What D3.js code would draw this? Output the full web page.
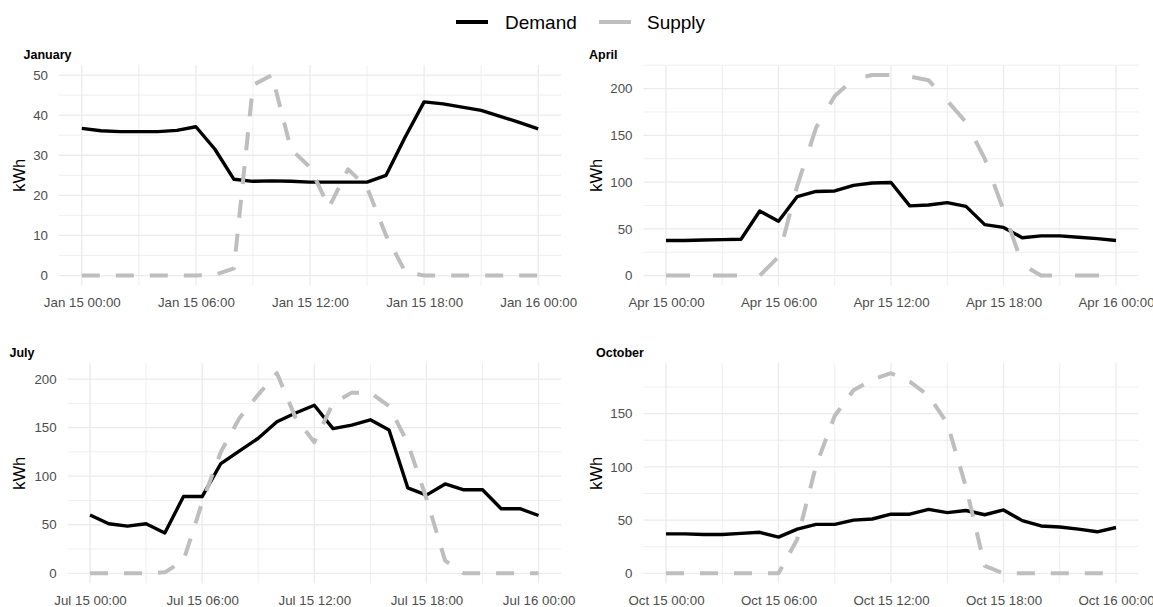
<!DOCTYPE html>
<html>
<head>
<meta charset="utf-8">
<script src="https://cdn.jsdelivr.net/npm/d3@7"></script>
<style>
  body { margin: 0; background: #fff; }
  svg { display: block; }
  text { font-family: "Liberation Sans", Arial, Helvetica, sans-serif; }
</style>
</head>
<body>
<svg id="chart" width="1153" height="607"></svg>
<script>
// Hour of day for each reading (15th of the month, 00:00 through next day 00:00)
const hours = [0, 1, 2, 3, 4, 5, 6, 7, 8, 9, 10, 11, 12, 13, 14, 15, 16, 17, 18, 19, 20, 21, 22, 23, 24];
const monthNames = ["January", "April", "July", "October"];
const monthIndex = [0, 3, 6, 9];
const seriesNames = ["Demand", "Supply"];
const majorTickHours = [0, 6, 12, 18, 24];
const minorTickHours = [3, 9, 15, 21];

// Hourly energy (kWh)
const demandJan = [36.7, 36.1, 35.9, 35.9, 35.9, 36.2, 37.1, 31.5, 24.0, 23.5, 23.6, 23.5, 23.3, 23.3, 23.3, 23.3, 25.0, 34.5, 43.3, 42.8, 42.0, 41.2, 39.7, 38.2, 36.6];
const supplyJan = [0, 0, 0, 0, 0, 0, 0, 0.2, 1.8, 47.5, 50, 31.5, 27, 17, 26.5, 22, 10, 1, 0, 0, 0, 0, 0, 0, 0];

const demandApr = [37.5, 37.5, 38, 38.5, 38.8, 69, 58, 84.5, 90, 90.5, 96.5, 99, 99.5, 74.5, 75.5, 78, 74, 54.5, 51.5, 40.5, 42.5, 42.5, 41, 39.5, 37.5];
const supplyApr = [0, 0, 0, 0, 0, 0, 20, 96, 158, 192, 210, 214.5, 214.5, 213, 209, 187, 164, 125, 70, 12, 0, 0, 0, 0, 0];

const demandJul = [60, 51, 48.5, 51, 41.5, 79, 79, 113, 126, 139, 156, 165, 173, 149, 152.5, 158, 147.5, 88, 80.5, 92, 86, 86, 66.5, 66.5, 59.5];
const supplyJul = [0, 0, 0, 0, 1, 13, 73, 125, 160, 184, 206, 160, 135, 175, 186, 186, 172, 134, 77, 13, 0, 0, 0, 0, 0];

const demandOct = [37, 37, 36.5, 36.5, 37.5, 38.5, 34, 41.5, 46, 46, 50, 51, 55.5, 55.5, 60, 57, 59, 55, 59.5, 49.5, 44.5, 43.5, 41.5, 39, 43];
const supplyOct = [0, 0, 0, 0, 0, 0, 0, 32, 101, 148, 172, 182, 188, 180, 167, 141, 81, 7, 0, 0, 0, 0, 0, 0, 0];

const demandByMonth = [demandJan, demandApr, demandJul, demandOct];
const supplyByMonth = [supplyJan, supplyApr, supplyJul, supplyOct];

// Panel boxes and decorations
const panels = [
  { left: 59,    right: 561,    top: 65,    bottom: 285.6, titleX: 23.5, titleY: 59,  ytitleX: 19,  dash: "18,16" },
  { left: 643.5, right: 1138.5, top: 65,    bottom: 285.6, titleX: 589,  titleY: 59,  ytitleX: 596, dash: "24,23" },
  { left: 67.6,  right: 561,    top: 363.2, bottom: 583.3, titleX: 9.5,  titleY: 357, ytitleX: 19,  dash: "18,16" },
  { left: 643.5, right: 1138.5, top: 363.2, bottom: 583.3, titleX: 596,  titleY: 357, ytitleX: 596, dash: "18,16" }
];

const colors = { Demand: "#000000", Supply: "#bebebe" };
const gridColor = "#ebebeb";
const svg = d3.select("#chart");
const fmt = d3.utcFormat("%b %d %H:%M");

monthNames.forEach((name, i) => {
  const p = panels[i];
  const start = Date.UTC(2023, monthIndex[i], 15);
  const toDate = h => new Date(start + h * 3600 * 1000);

  const demand = demandByMonth[i];
  const supply = supplyByMonth[i];
  const maxV = d3.max([...demand, ...supply]);
  const minV = 0;
  const padY = (maxV - minV) * 0.05;

  const x = d3.scaleUtc()
    .domain([toDate(-1.2), toDate(25.2)])
    .range([p.left, p.right]);
  const y = d3.scaleLinear()
    .domain([minV - padY, maxV + padY])
    .range([p.bottom, p.top]);

  const g = svg.append("g");

  // minor grid
  const yMajor = y.ticks(5);
  const stepY = yMajor[1] - yMajor[0];
  const yMinor = [];
  for (let k = -1; k < yMajor.length; k++) {
    const v = yMajor[0] + (k + 0.5) * stepY;
    if (v >= y.domain()[0] && v <= y.domain()[1]) yMinor.push(v);
  }
  g.selectAll(".ymin").data(yMinor).join("line")
    .attr("x1", p.left).attr("x2", p.right)
    .attr("y1", d => y(d)).attr("y2", d => y(d))
    .attr("stroke", gridColor).attr("stroke-width", 0.8);
  g.selectAll(".xmin").data(minorTickHours).join("line")
    .attr("x1", d => x(toDate(d))).attr("x2", d => x(toDate(d)))
    .attr("y1", p.top).attr("y2", p.bottom)
    .attr("stroke", gridColor).attr("stroke-width", 0.8);

  // major grid
  g.selectAll(".ymaj").data(yMajor).join("line")
    .attr("x1", p.left).attr("x2", p.right)
    .attr("y1", d => y(d)).attr("y2", d => y(d))
    .attr("stroke", gridColor).attr("stroke-width", 1.3);
  g.selectAll(".xmaj").data(majorTickHours).join("line")
    .attr("x1", d => x(toDate(d))).attr("x2", d => x(toDate(d)))
    .attr("y1", p.top).attr("y2", p.bottom)
    .attr("stroke", gridColor).attr("stroke-width", 1.3);

  // axes
  const xAxis = d3.axisBottom(x)
    .tickValues(majorTickHours.map(toDate))
    .tickFormat(fmt).tickSize(0).tickPadding(12);
  const xg = g.append("g").attr("transform", `translate(0,${p.bottom})`).call(xAxis);
  xg.select(".domain").remove();
  xg.selectAll("text").attr("fill", "#4d4d4d").style("font-size", "13.3px");

  const yAxis = d3.axisLeft(y).tickValues(yMajor).tickSize(0).tickPadding(11);
  const yg = g.append("g").attr("transform", `translate(${p.left},0)`).call(yAxis);
  yg.select(".domain").remove();
  yg.selectAll("text").attr("fill", "#4d4d4d").style("font-size", "13.3px");

  // y axis title
  g.append("text")
    .attr("transform", `translate(${p.ytitleX},${(p.top + p.bottom) / 2}) rotate(-90)`)
    .attr("text-anchor", "middle").attr("dominant-baseline", "central")
    .style("font-size", "16.5px").attr("fill", "#000")
    .text("kWh");

  // panel title
  g.append("text")
    .attr("x", p.titleX).attr("y", p.titleY)
    .style("font-size", "12.5px").style("font-weight", "bold").attr("fill", "#000")
    .text(name);

  // lines
  const line = d3.line()
    .x((d, k) => x(toDate(hours[k])))
    .y(d => y(d));

  g.append("path").datum(demand)
    .attr("d", line)
    .attr("fill", "none").attr("stroke", colors.Demand)
    .attr("stroke-width", 3.4).attr("stroke-linejoin", "round").attr("stroke-linecap", "butt");

  g.append("path").datum(supply)
    .attr("d", line)
    .attr("fill", "none").attr("stroke", colors.Supply)
    .attr("stroke-width", 4).attr("stroke-dasharray", p.dash)
    .attr("stroke-linejoin", "round").attr("stroke-linecap", "butt");
});

// legend
const legend = svg.append("g");
const legendItems = [
  { name: seriesNames[0], x1: 456, x2: 488, tx: 505 },
  { name: seriesNames[1], x1: 599, x2: 631, tx: 647 }
];
legendItems.forEach(it => {
  legend.append("line")
    .attr("x1", it.x1).attr("x2", it.x2).attr("y1", 22).attr("y2", 22)
    .attr("stroke", colors[it.name]).attr("stroke-width", 4);
  legend.append("text")
    .attr("x", it.tx).attr("y", 22).attr("dominant-baseline", "central")
    .style("font-size", "19px").attr("fill", "#000")
    .text(it.name);
});
</script>
</body>
</html>
